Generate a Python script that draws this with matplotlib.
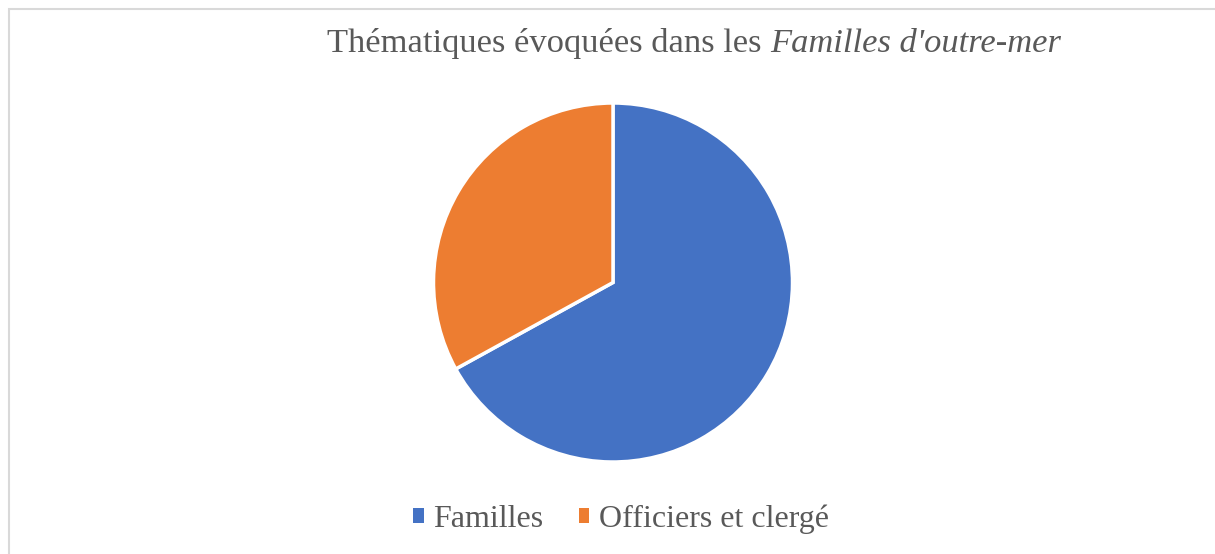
import matplotlib
matplotlib.use("Agg")
import matplotlib.pyplot as plt
from matplotlib.patches import Patch, Rectangle

# data
labels = ["Familles", "Officiers et clergé"]
values = [67, 33]
colors = ["#4472C4", "#ED7D31"]

title_plain = "Thématiques évoquées dans les "
title_italic = "Familles d'outre-mer"

W, H = 1215, 554
fig = plt.figure(figsize=(W / 100, H / 100), dpi=100)
plt.rcParams['font.family'] = ['Liberation Serif', 'DejaVu Serif']
text_color = "#595959"

# chart border
fig.patches.append(Rectangle((9 / W, -0.05), 1.2, 1.05 - 9 / H, transform=fig.transFigure,
                             fill=False, edgecolor="#D9D9D9", linewidth=1.5))

# pie axes placed on pixel box
ax = fig.add_axes([433 / W, (H - 462) / H, 360 / W, 359 / H])
ax.pie(values, colors=colors, startangle=90, counterclock=False,
       wedgeprops=dict(edgecolor="white", linewidth=2.5))
ax.set_xlim(-1.0, 1.0)
ax.set_ylim(-1.0, 1.0)
ax.set_aspect("equal")
ax.axis("off")

# title: plain + italic part, centered together
ty = 1 - 52 / H
t1 = fig.text(0, ty, title_plain, fontsize=24.8, color=text_color, va="baseline", ha="left")
t2 = fig.text(0, ty, title_italic, fontsize=24.8, color=text_color, va="baseline", ha="left",
              style="italic")
fig.canvas.draw()
r = fig.canvas.get_renderer()
w1 = t1.get_window_extent(r).width
w2 = t2.get_window_extent(r).width
cx = 694
x0 = cx - (w1 + w2) / 2
t1.set_x(x0 / W)
t2.set_x((x0 + w1) / W)

# legend
handles = [Patch(facecolor=c, edgecolor="none") for c in colors]
fig.legend(handles, labels, loc="center", bbox_to_anchor=(621 / W, 1 - 519 / H), ncol=2,
           frameon=False, fontsize=23, labelcolor=text_color,
           handlelength=0.34, handleheight=0.34, handletextpad=0.3, columnspacing=1.1)

fig.savefig("out.png", dpi=100)
